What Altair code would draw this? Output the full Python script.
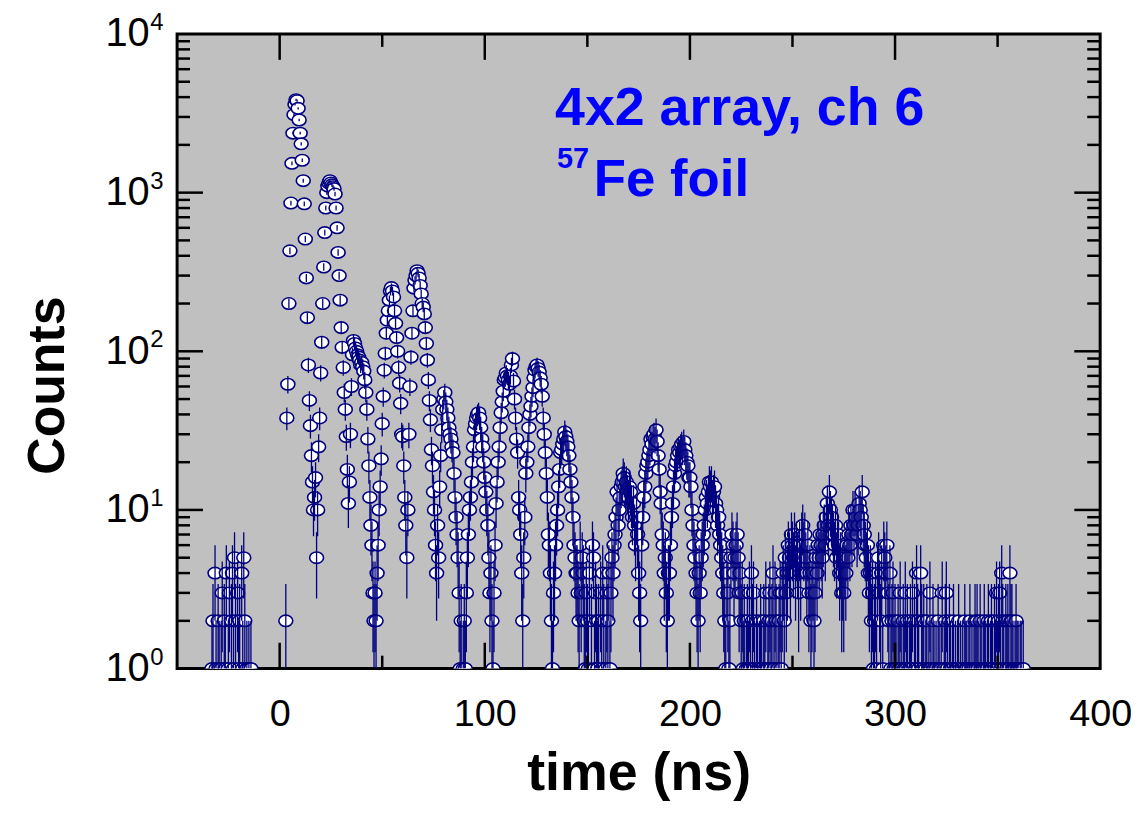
import altair as alt
import numpy as np
import pandas as pd

# ---------------- data (counts per 0.5 ns time bin) ----------------
T_START = -35.0   # ns, first bin
BIN_NS = 0.5      # ns per bin

counts_before_zero = [  # t = -35 .. -0.5 ns
    0, 0, 0, 0, 1, 2, 0, 4, 1, 0,
    2, 1, 0, 1, 3, 0, 2, 1, 4, 0,
    1, 3, 0, 2, 4, 1, 5, 2, 0, 3,
    1, 2, 0, 4, 1, 5, 2, 0, 1, 0,
    1, 0, 1, 0, 0, 0, 0, 0, 0, 0,
    0, 0, 0, 0, 0, 0, 0, 0, 0, 0,
    0, 0, 0, 0, 0, 0, 0, 0, 0, 0,
]
counts_early = [  # t = 0 .. 89.5 ns
    0, 0, 0, 0, 0, 0, 2, 38, 62, 200,
    430, 860, 1530, 2370, 3100, 3600, 3850, 3800, 3400, 2870,
    2370, 2030, 1600, 1190, 850, 510, 290, 163, 82, 49,
    34, 22, 15, 10, 12, 16, 5, 10, 25, 38,
    73, 114, 200, 340, 560, 800, 1000, 1100, 1150, 1190,
    1150, 1120, 1090, 1060, 980, 800, 600, 420, 300, 210,
    141, 106, 79, 55, 43, 29, 18, 11, 15, 30,
    60, 95, 117, 112, 105, 100, 95, 92, 88, 82,
    85, 80, 75, 66, 55, 43, 28, 19, 12, 8,
    6, 3, 2, 3, 2, 4, 6, 10, 14, 21,
    35, 52, 76, 97, 130, 157, 180, 210, 240, 252,
    240, 220, 180, 150, 122, 100, 79, 63, 47, 30,
    29, 19, 12, 8, 5, 10, 30, 60, 92, 130,
    180, 250, 280, 300, 322, 310, 290, 260, 230, 200,
    190, 172, 141, 112, 88, 66, 49, 37, 24, 19,
    13, 10, 6, 4, 8, 5, 14, 22, 32, 43,
    50, 55, 48, 43, 38, 33, 30, 28, 25, 23,
    17, 12, 9, 7, 5, 3, 1, 2, 0, 1,
]
counts_middle = [  # t = 90 .. 214.5 ns
    2, 1, 3, 5, 7, 10, 12, 15, 20, 25,
    32, 35, 38, 40, 41, 38, 33, 28, 25, 20,
    16, 13, 10, 8, 5, 3, 4, 2, 1, 3,
    6, 11, 15, 20, 25, 33, 41, 48, 56, 66,
    68, 73, 70, 66, 62, 70, 82, 90, 65, 50,
    38, 28, 23, 12, 10, 7, 4, 2, 5, 9,
    17, 20, 25, 33, 40, 45, 52, 59, 68, 76,
    80, 82, 78, 74, 68, 62, 52, 38, 30, 23,
    17, 12, 7, 6, 4, 2, 1, 3, 4, 6,
    8, 10, 14, 18, 23, 24, 26, 28, 31, 29,
    27, 25, 22, 18, 15, 12, 9, 6, 5, 4,
    4, 3, 2, 6, 3, 5, 4, 2, 1, 3,
    2, 1, 4, 0, 2, 6, 5, 1, 3, 2,
    1, 2, 0, 3, 1, 4, 2, 0, 1, 3,
    2, 4, 1, 3, 5, 4, 6, 7, 9, 13,
    8, 10, 12, 14, 15, 17, 16, 14, 15, 13,
    12, 14, 13, 11, 9, 11, 8, 6, 9, 7,
    4, 3, 2, 6, 9, 12, 14, 17, 19, 20,
    22, 24, 28, 26, 29, 30, 28, 32, 27, 22,
    18, 13, 11, 7, 6, 4, 5, 3, 2, 4,
    4, 6, 9, 11, 14, 17, 19, 20, 22, 24,
    23, 25, 26, 24, 27, 24, 22, 20, 19, 16,
    16, 14, 10, 8, 6, 5, 4, 3, 2, 4,
    3, 5, 6, 7, 8, 10, 12, 11, 13, 15,
    14, 15, 12, 13, 14, 11, 10, 8, 9, 7,
]
counts_late = [  # t = 215 .. 364.5 ns
    6, 5, 4, 3, 2, 1, 4, 3, 1, 2,
    5, 7, 6, 4, 5, 6, 7, 5, 3, 4,
    2, 3, 1, 2, 0, 1, 2, 1, 3, 1,
    4, 2, 3, 1, 0, 2, 1, 0, 1, 2,
    1, 0, 2, 1, 3, 0, 1, 2, 3, 1,
    2, 4, 1, 3, 2, 0, 1, 2, 3, 1,
    3, 4, 2, 5, 3, 4, 6, 5, 4, 7,
    6, 5, 7, 4, 6, 5, 3, 6, 4, 7,
    8, 6, 7, 5, 4, 6, 3, 4, 2, 3,
    4, 2, 3, 5, 4, 6, 5, 7, 6, 5,
    7, 8, 6, 9, 11, 8, 13, 10, 9, 8,
    7, 6, 8, 5, 7, 6, 4, 5, 3, 4,
    3, 5, 4, 6, 5, 7, 6, 8, 7, 10,
    8, 10, 9, 7, 8, 11, 10, 9, 13, 8,
    7, 6, 5, 6, 4, 3, 4, 2, 3, 1,
    2, 3, 1, 4, 5, 3, 2, 4, 1, 6,
    5, 4, 6, 3, 2, 4, 1, 2, 3, 1,
    2, 1, 0, 2, 1, 3, 1, 0, 2, 1,
    3, 1, 2, 0, 1, 2, 1, 3, 0, 2,
    1, 4, 2, 1, 0, 4, 2, 1, 2, 0,
    1, 2, 0, 1, 3, 1, 0, 2, 1, 0,
    1, 0, 2, 1, 0, 1, 3, 0, 1, 2,
    3, 1, 0, 2, 1, 0, 1, 2, 0, 1,
    0, 1, 2, 0, 1, 0, 1, 0, 2, 1,
    1, 0, 1, 2, 0, 1, 0, 1, 2, 1,
    2, 1, 0, 2, 1, 0, 1, 2, 1, 0,
    1, 2, 0, 1, 2, 1, 0, 2, 1, 3,
    1, 2, 3, 1, 4, 2, 1, 0, 2, 1,
    2, 1, 4, 2, 2, 1, 0, 1, 2, 1,
    1, 0, 1, 1, 0, 1, 0, 0, 0, 0,
]

# axis ticks / labels
x_label_values = [0, 100, 200, 300, 400]
x_major_ticks = [0, 100, 200, 300]
x_minor_ticks = [50, 150, 250, 350]
y_decades = [1, 10, 100, 1000, 10000]
y_decade_exponents = ["0", "1", "2", "3", "4"]
y_major_ticks = [10, 100, 1000]
y_minor_ticks = [m * d for d in [1, 10, 100, 1000] for m in range(2, 10)]

title_line1 = "4x2 array, ch 6"
title_sup = "57"
title_line2 = "Fe foil"

# ---------------- build table ----------------
counts = counts_before_zero + counts_early + counts_middle + counts_late
t = T_START + BIN_NS * np.arange(len(counts))
df = pd.DataFrame({"t": t, "n": counts})
df = df[df["n"] > 0].copy()
df["lo"] = np.maximum(df["n"] - np.sqrt(df["n"]), 1.0)
df["hi"] = df["n"] + np.sqrt(df["n"])

# ---------------- chart ----------------
W, H = 928, 638
NAVY = "#000080"
FONT = "Liberation Sans"
MAJ, MIN = 26, 13

xs = alt.Scale(domain=[-50, 400], nice=False, zero=False)
ys = alt.Scale(type="log", domain=[1, 10000], nice=False)

AX_X = alt.Axis(
    values=x_label_values, title="time (ns)", domain=False, ticks=False, grid=False,
    labelFont=FONT, labelFontSize=38, labelColor="black", labelPadding=27,
    labelFlush=False, titleFont=FONT, titleFontSize=54, titleFontWeight="bold",
    titleColor="black", titleY=122, titleBaseline="alphabetic")
AX_Y = alt.Axis(
    values=y_decades, labelExpr="'10'", domain=False, ticks=False, grid=False,
    labelFont=FONT, labelFontSize=40, labelColor="black", labelPadding=28,
    title="Counts", titleFont=FONT, titleFontSize=52, titleFontWeight="bold",
    titleColor="black", titleAngle=270, titleX=-114, titleY=353,
    titleBaseline="alphabetic", titleAlign="center")

ELLIPSE = "M-1,0A1,0.82,0,1,1,1,0A1,0.82,0,1,1,-1,0Z"

points = alt.Chart(df).mark_point(
    shape=ELLIPSE, size=196, filled=True, fill="white", stroke=NAVY,
    strokeWidth=1.6, opacity=1, clip=True,
).encode(
    x=alt.X("t:Q", scale=xs, axis=AX_X),
    y=alt.Y("n:Q", scale=ys, axis=AX_Y),
)

errbars = alt.Chart(df).mark_rule(color=NAVY, strokeWidth=1.3, clip=True).encode(
    x=alt.X("t:Q", scale=xs, axis=AX_X),
    y=alt.Y("lo:Q", scale=ys, axis=AX_Y),
    y2="hi:Q",
)

def xticks(vals, length):
    d = pd.DataFrame({"v": vals})
    bot = alt.Chart(d).mark_rule(color="black", strokeWidth=2.5).encode(
        x=alt.X("v:Q", scale=xs, axis=AX_X), y=alt.value(H), y2=alt.value(H - length))
    top = alt.Chart(d).mark_rule(color="black", strokeWidth=2.5).encode(
        x=alt.X("v:Q", scale=xs, axis=AX_X), y=alt.value(0), y2=alt.value(length))
    return [bot, top]

def yticks(vals, length):
    d = pd.DataFrame({"v": vals})
    left = alt.Chart(d).mark_rule(color="black", strokeWidth=2.5).encode(
        y=alt.Y("v:Q", scale=ys, axis=AX_Y), x=alt.value(0), x2=alt.value(length))
    right = alt.Chart(d).mark_rule(color="black", strokeWidth=2.5).encode(
        y=alt.Y("v:Q", scale=ys, axis=AX_Y), x=alt.value(W), x2=alt.value(W - length))
    return [left, right]

exps = alt.Chart(pd.DataFrame({"v": y_decades, "e": y_decade_exponents})).mark_text(
    align="left", baseline="middle", fontSize=24, font=FONT, color="black", dy=-11,
).encode(x=alt.value(-27), y=alt.Y("v:Q", scale=ys, axis=AX_Y), text="e:N")

ann_style = dict(align="left", baseline="alphabetic", font=FONT, fontWeight="bold", color="#0000FF")
ann1 = alt.Chart(pd.DataFrame({"s": [title_line1]})).mark_text(fontSize=54, **ann_style).encode(
    x=alt.value(380), y=alt.value(91), text="s:N")
ann_sup = alt.Chart(pd.DataFrame({"s": [title_sup]})).mark_text(fontSize=29, **ann_style).encode(
    x=alt.value(382), y=alt.value(135), text="s:N")
ann2 = alt.Chart(pd.DataFrame({"s": [title_line2]})).mark_text(fontSize=53, **ann_style).encode(
    x=alt.value(419), y=alt.value(163), text="s:N")

chart = alt.layer(
    points, errbars,
    *xticks(x_major_ticks, MAJ), *xticks(x_minor_ticks, MIN),
    *yticks(y_major_ticks, MAJ), *yticks(y_minor_ticks, MIN),
    exps, ann1, ann_sup, ann2,
).properties(
    width=W, height=H,
    autosize=alt.AutoSizeParams(type="none"),
    padding={"left": 170, "top": 24, "right": 31, "bottom": 135},
    background="white",
).configure_view(
    fill="#C0C0C0", stroke="black", strokeWidth=3,
)

chart.save("out.html", embed_options={"renderer": "svg", "actions": False})
